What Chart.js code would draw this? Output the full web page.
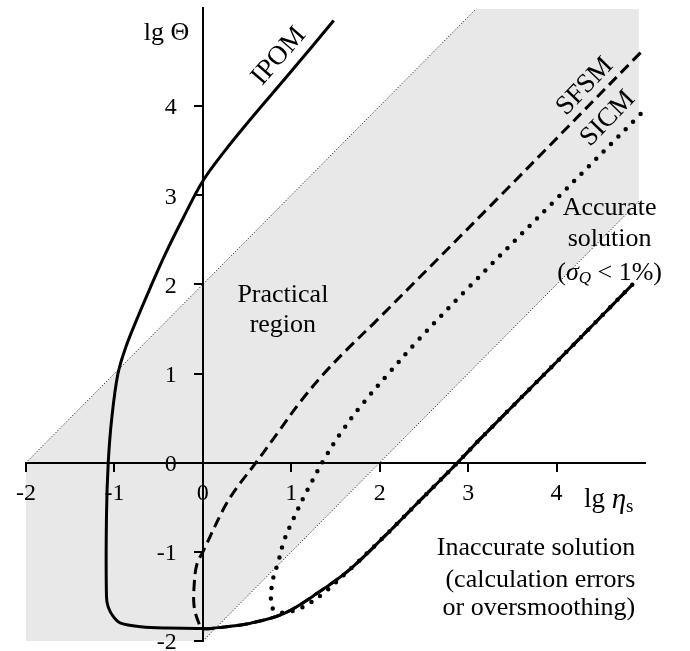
<!DOCTYPE html>
<html>
<head>
<meta charset="utf-8">
<script src="https://cdn.jsdelivr.net/npm/chart.js@4/dist/chart.umd.min.js"></script>
<style>
  html, body { margin: 0; padding: 0; background: #fff; }
  #wrap { width: 690px; height: 651px; }
</style>
</head>
<body>
<div id="wrap"><canvas id="chart" width="690" height="651"></canvas></div>
<script>
// ---- data (lg eta_s, lg Theta) ----
const xTicks = [-2, -1, 0, 1, 2, 3, 4];
const yTicks = [-2, -1, 0, 1, 2, 3, 4];

// shaded "practical region" band and its dotted edges
const bandX = [-2, -2, 3.09, 4.93, 4.93, 0];
const bandY = [-2, 0, 5.09, 5.09, 2.93, -2];
const upperEdgeX = [-2, 3.09];
const upperEdgeY = [0, 5.09];
const lowerEdgeX = [0, 4.93];
const lowerEdgeY = [-2, 2.93];

// lower branch shared by all three methods
const lowX = [0, 0.17, 0.54, 0.92, 1.3, 1.67, 2.05, 2.43, 2.88, 3.14, 4.0, 4.86];
const lowY = [-1.86, -1.85, -1.8, -1.69, -1.46, -1.19, -0.83, -0.45, 0, 0.27, 1.13, 2.0];

// IPOM upper branch
const ipomX = [1.48, 1.0, 0.52, 0.25, 0, -0.22, -0.42, -0.6, -0.75, -0.87, -0.96, -1.03, -1.07, -1.09, -1.09, -1.07, -1.01, -0.93, -0.7, -0.4];
const ipomY = [4.96, 4.39, 3.83, 3.5, 3.16, 2.75, 2.35, 1.95, 1.6, 1.3, 1.0, 0.5, 0.0, -0.6, -1.5, -1.62, -1.73, -1.8, -1.84, -1.855];

// SFSM upper branch
const sfsmX = [4.95, 3.37, 1.95, 1.65, 1.37, 1.1, 0.85, 0.6, 0.29, 0.01, -0.07, -0.1, -0.1, -0.06];
const sfsmY = [4.6, 3.0, 1.58, 1.29, 1.0, 0.68, 0.34, 0, -0.42, -0.98, -1.15, -1.4, -1.6, -1.76];

// SICM upper branch (joins the lower branch near x = 1.67)
const sicmX = [4.95, 4.0, 3.0, 2.43, 2.1, 1.79, 1.55, 1.39, 1.17, 1.02, 0.92, 0.85, 0.79, 0.77, 0.78, 0.84, 0.93, 1.11, 1.33];
const sicmY = [3.91, 2.96, 1.96, 1.37, 1.0, 0.64, 0.32, 0.07, -0.33, -0.64, -0.87, -1.12, -1.32, -1.5, -1.62, -1.67, -1.68, -1.63, -1.49];

const toPts = (xs, ys) => xs.map((x, i) => ({ x, y: ys[i] }));
const serif = "'Liberation Serif', 'Times New Roman', serif";

// ---- text overlay ----
function runs(ctx, parts, x, y, align) {
  let w = 0;
  parts.forEach(p => { ctx.font = p.f; w += ctx.measureText(p.t).width; });
  let cx = align === 'center' ? x - w / 2 : align === 'right' ? x - w : x;
  parts.forEach(p => {
    ctx.font = p.f;
    ctx.fillText(p.t, cx, y + (p.dy || 0));
    cx += ctx.measureText(p.t).width;
  });
}

const labelsPlugin = {
  id: 'labels',
  afterDraw(chart) {
    const { ctx, scales: { x, y } } = chart;
    const px = v => x.getPixelForValue(v);
    const py = v => y.getPixelForValue(v);
    const big = '26px ' + serif;
    const it = 'italic 26px ' + serif;
    const itSub = 'italic 17px ' + serif;
    ctx.save();
    ctx.fillStyle = '#000';
    ctx.textBaseline = 'middle';

    // y tick labels (centre-positioned y axis gets no label padding in Chart.js)
    ctx.font = '24px ' + serif;
    ctx.textAlign = 'right';
    yTicks.forEach(v => ctx.fillText(String(v), px(0) - 26, py(v) + 2));
    ctx.textAlign = 'left';

    // axis titles
    runs(ctx, [{ t: 'lg Θ', f: big }], px(-0.41), py(4.82), 'center');
    runs(ctx, [{ t: 'lg ', f: '27px ' + serif }, { t: 'η', f: 'italic 29px ' + serif }, { t: 's', f: '19px ' + serif, dy: 7 }], px(4.31), py(-0.42), 'left');

    // curve names along the lines
    const rot = (s, vx, vy, deg) => {
      ctx.save();
      ctx.translate(px(vx), py(vy));
      ctx.rotate(deg * Math.PI / 180);
      ctx.font = '27px ' + serif;
      ctx.textAlign = 'center';
      ctx.fillText(s, 0, 0);
      ctx.restore();
    };
    rot('IPOM', 0.86, 4.56, -49);
    rot('SFSM', 4.32, 4.22, -46);
    rot('SICM', 4.58, 3.86, -46);

    // region notes
    runs(ctx, [{ t: 'Practical', f: big }], px(0.905), py(1.875), 'center');
    runs(ctx, [{ t: 'region', f: big }], px(0.905), py(1.54), 'center');

    runs(ctx, [{ t: 'Accurate', f: big }], px(4.6), py(2.86), 'center');
    runs(ctx, [{ t: 'solution', f: big }], px(4.6), py(2.51), 'center');
    runs(ctx, [{ t: '(', f: big }, { t: 'σ', f: it }, { t: 'Q', f: itSub, dy: 6 }, { t: ' < 1%)', f: big }], px(4.6), py(2.13), 'center');

    runs(ctx, [{ t: 'Inaccurate solution', f: big }], px(4.89), py(-0.96), 'right');
    runs(ctx, [{ t: '(calculation errors', f: big }], px(4.89), py(-1.32), 'right');
    runs(ctx, [{ t: 'or oversmoothing)', f: big }], px(4.89), py(-1.63), 'right');
    ctx.restore();
  }
};

const axisOpts = (ticks, pos, showLabels) => ({
  type: 'linear',
  position: pos,
  border: { display: true, color: '#000', width: 2, z: 1 },
  grid: { drawOnChartArea: false, color: '#000', lineWidth: 2, tickLength: 8, z: 1 },
  ticks: {
    display: showLabels,
    z: 1,
    color: '#000',
    font: { family: serif, size: 24 },
    padding: 9,
    callback: v => String(v)
  },
  afterBuildTicks: axis => { axis.ticks = ticks.map(v => ({ value: v })); },
  afterFit: axis => {
    axis.paddingTop = 0; axis.paddingBottom = 0;
    axis.paddingLeft = 0; axis.paddingRight = 0;
  }
});

const xAxis = axisOpts(xTicks, { y: 0 }, true);
xAxis.min = -2; xAxis.max = 5;
const yAxis = axisOpts(yTicks, { x: 0 }, false);
yAxis.min = -2; yAxis.max = 5.1;

new Chart(document.getElementById('chart'), {
  type: 'scatter',
  data: {
    datasets: [
      {
        label: 'IPOM',
        data: toPts(ipomX.concat(lowX), ipomY.concat(lowY)),
        showLine: true, borderColor: '#000', borderWidth: 3, tension: 0.35,
        pointRadius: 0, clip: false, order: 1
      },
      {
        label: 'SFSM',
        data: toPts(sfsmX.concat(lowX), sfsmY.concat(lowY)),
        showLine: true, borderColor: '#000', borderWidth: 3, borderDash: [11, 6], tension: 0.35,
        pointRadius: 0, clip: false, order: 2
      },
      {
        label: 'SICM',
        data: toPts(sicmX.concat(lowX.slice(5)), sicmY.concat(lowY.slice(5))),
        showLine: true, borderColor: '#000', borderWidth: 4.5, borderDash: [0, 10.5], borderCapStyle: 'round',
        tension: 0.35, pointRadius: 0, clip: false, order: 3
      },
      {
        label: 'upper edge',
        data: toPts(upperEdgeX, upperEdgeY),
        showLine: true, borderColor: '#000', borderWidth: 1, borderDash: [1, 2],
        pointRadius: 0, clip: false, order: 4
      },
      {
        label: 'lower edge',
        data: toPts(lowerEdgeX, lowerEdgeY),
        showLine: true, borderColor: '#000', borderWidth: 1, borderDash: [1, 2],
        pointRadius: 0, clip: false, order: 4
      },
      {
        label: 'practical region',
        data: toPts(bandX, bandY),
        showLine: true, borderWidth: 0, borderColor: 'rgba(0,0,0,0)',
        backgroundColor: '#e8e8e8', fill: 'shape',
        pointRadius: 0, clip: false, order: 5
      }
    ]
  },
  options: {
    responsive: false,
    animation: false,
    layout: { padding: { left: 26, right: 45, top: 8, bottom: 10 } },
    plugins: { legend: { display: false }, tooltip: { enabled: false } },
    scales: { x: xAxis, y: yAxis }
  },
  plugins: [labelsPlugin]
});
</script>
</body>
</html>
